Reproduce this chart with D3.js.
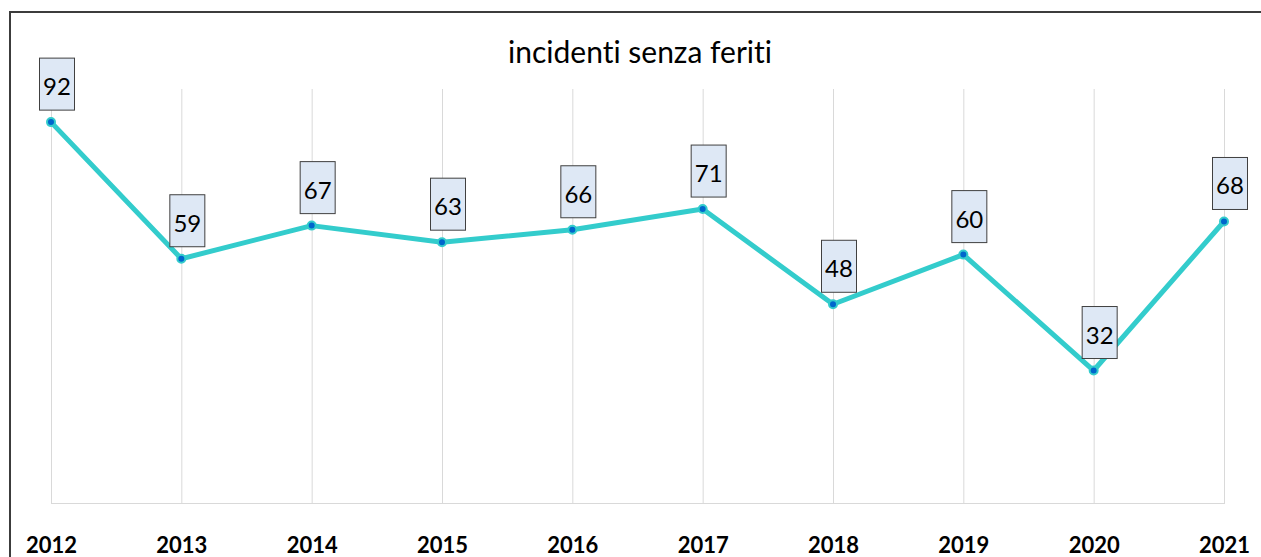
<!DOCTYPE html>
<html>
<head>
<meta charset="utf-8">
<script src="https://cdn.jsdelivr.net/npm/d3@7"></script>
<style>
  body { margin: 0; background: #fff; }
  svg { display: block; font-family: Lato, "Open Sans", sans-serif; font-variant-ligatures: none; }
</style>
</head>
<body>
<div id="chart"></div>
<script>
// data
var years = ["2012", "2013", "2014", "2015", "2016", "2017", "2018", "2019", "2020", "2021"];
var values = [92, 59, 67, 63, 66, 71, 48, 60, 32, 68];
var yDomain = [0, 100];

var svgWidth = 1261;
var svgHeight = 557;

var plot = { left: 51, right: 1224, top: 89, bottom: 503 };

var svg = d3.select("#chart")
  .append("svg")
  .attr("width", svgWidth)
  .attr("height", svgHeight);

// outer frame (left and top edges visible)
svg.append("path")
  .attr("d", "M10,560 L10,12 L1270,12")
  .attr("fill", "none")
  .attr("stroke", "#3c3c3c")
  .attr("stroke-width", 2);

var xScale = d3.scalePoint()
  .domain(years)
  .range([plot.left, plot.right]);

var yScale = d3.scaleLinear()
  .domain(yDomain)
  .range([plot.bottom, plot.top]);

// vertical gridlines
svg.append("g")
  .selectAll("line")
  .data(years)
  .enter()
  .append("line")
  .attr("x1", d => xScale(d) + 0.5)
  .attr("x2", d => xScale(d) + 0.5)
  .attr("y1", plot.top)
  .attr("y2", plot.bottom)
  .attr("stroke", "#d9d9d9")
  .attr("stroke-width", 1);

// baseline
svg.append("line")
  .attr("x1", plot.left)
  .attr("x2", plot.right + 1)
  .attr("y1", yScale(0) + 0.5)
  .attr("y2", yScale(0) + 0.5)
  .attr("stroke", "#d9d9d9")
  .attr("stroke-width", 1);

// x axis labels
var xAxis = d3.axisBottom(xScale).tickSize(0).tickPadding(0);
var xAxisGroup = svg.append("g")
  .attr("transform", "translate(0, 537)")
  .call(xAxis);
xAxisGroup.select(".domain").remove();
xAxisGroup.selectAll("text")
  .attr("dy", "0.74em")
  .attr("font-family", "Lato, sans-serif")
  .attr("font-size", 22)
  .attr("font-weight", "bold")
  .attr("fill", "#000");

// title
svg.append("text")
  .attr("x", 640)
  .attr("y", 63)
  .attr("text-anchor", "middle")
  .attr("font-size", 30)
  .attr("fill", "#000")
  .text("incidenti senza feriti");

// line
var line = d3.line()
  .x((d, i) => xScale(years[i]))
  .y(d => yScale(d));

svg.append("path")
  .datum(values)
  .attr("d", line)
  .attr("fill", "none")
  .attr("stroke", "#33cccc")
  .attr("stroke-width", 5)
  .attr("stroke-linejoin", "round");

// markers
svg.append("g")
  .selectAll("circle")
  .data(values)
  .enter()
  .append("circle")
  .attr("cx", (d, i) => xScale(years[i]))
  .attr("cy", d => yScale(d))
  .attr("r", 4)
  .attr("fill", "#0066cc")
  .attr("stroke", "#33cccc")
  .attr("stroke-width", 2);

// data labels
var labels = svg.append("g")
  .selectAll("g")
  .data(values)
  .enter()
  .append("g")
  .attr("transform", (d, i) => `translate(${xScale(years[i]) + 6}, ${yScale(d) - 38})`);

labels.append("rect")
  .attr("x", -17.5)
  .attr("y", -26)
  .attr("width", 35)
  .attr("height", 52)
  .attr("fill", "#dee8f5")
  .attr("stroke", "#404040")
  .attr("stroke-width", 1);

labels.append("text")
  .attr("y", 11)
  .attr("text-anchor", "middle")
  .attr("font-size", 24)
  .attr("fill", "#000")
  .text(d => d);
</script>
</body>
</html>
